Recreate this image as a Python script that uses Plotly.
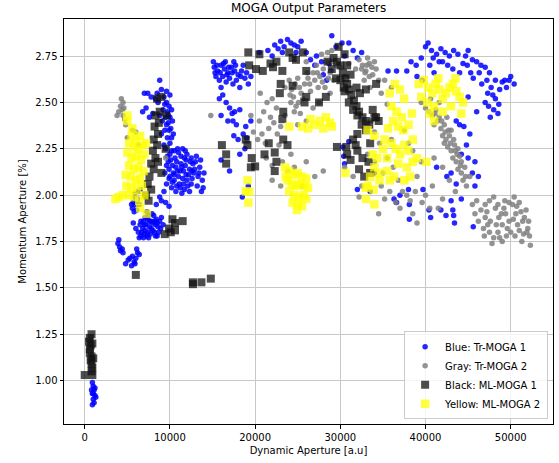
import plotly.graph_objects as go

# ---- Blue: Tr-MOGA 1 (x = dynamic aperture, y = momentum aperture) ----
blue_pts = [
    # bottom-left
    (900,0.99),(1000,0.97),(1100,0.95),(900,0.93),(1200,0.92),(1000,0.90),(1100,0.88),(800,0.95),(1300,0.91),(900,0.87),(1200,0.96),(1000,0.93),
    # low strand
    (3900,1.74),(4100,1.72),(4200,1.70),(4400,1.71),(4000,1.76),(4500,1.69),(5300,1.66),(5600,1.67),(5800,1.64),(6000,1.66),(6200,1.69),(6400,1.68),
    (5500,1.62),(5900,1.63),(4800,1.63),(5100,1.65),(6100,1.71),
    # blob ~1.8
    (6300,1.80),(6600,1.78),(6800,1.82),(7000,1.79),(7200,1.84),(7400,1.80),(7600,1.86),(7800,1.82),(8000,1.85),(8200,1.80),(8400,1.87),(8600,1.83),
    (8800,1.86),(9000,1.88),(7100,1.88),(7500,1.77),(6900,1.86),(8100,1.89),(7300,1.91),(6500,1.84),(7700,1.79),(8500,1.78),(6000,1.82),(5700,1.85),
    (7900,1.90),(8300,1.84),(9200,1.84),(6700,1.80),(7000,1.84),(7600,1.83),(8200,1.86),(8700,1.80),(6400,1.77),(7300,1.78),
    (6600,1.86),(7100,1.81),(7400,1.87),(7800,1.86),(8000,1.81),(8500,1.85),(8900,1.82),(6900,1.77),(7500,1.89),(8300,1.78),
    # strand ~1.95
    (5600,1.93),(5700,1.96),(5800,1.99),(5900,2.01),(6000,1.95),(6200,1.98),(6300,2.02),(5800,1.91),(6100,1.92),(6400,1.95),(6500,2.03),(5500,1.95),
    (8400,1.95),(9000,1.97),(9500,1.96),(8800,1.99),(9300,2.02),(9900,1.94),
    # big blob 2.0-2.25
    (9500,2.25),(10000,2.22),(10500,2.24),(11000,2.23),(11500,2.25),(12000,2.22),(12500,2.20),(13000,2.18),(13500,2.15),(14000,2.12),(13800,2.08),
    (9800,2.18),(10300,2.16),(10800,2.18),(11300,2.17),(11800,2.16),(12300,2.14),(12800,2.12),(10000,2.10),(10500,2.08),(11000,2.10),(11500,2.09),
    (12000,2.08),(12500,2.06),(10200,2.04),(10700,2.02),(11200,2.04),(11700,2.03),(9600,2.06),(10900,2.13),(11600,2.13),(12200,2.11),(9400,2.12),
    (10600,2.20),(13200,2.05),(13900,2.04),(11400,2.01),(12700,2.17),(9900,2.14),(10400,2.12),(11100,2.06),(11900,2.19),(12600,2.09),(13300,2.10),
    (10100,2.19),(11300,2.21),(12100,2.05),(13600,2.19),
    (9700,2.21),(10200,2.24),(10700,2.15),(11200,2.13),(11700,2.20),(12400,2.18),(12900,2.14),(10300,2.07),(10800,2.05),(11600,2.06),(12300,2.02),
    (9600,2.16),(10500,2.11),(11400,2.15),(11900,2.11),(12600,2.13),(13100,2.21),(13400,2.12),(11800,2.24),(10900,2.25),(9900,2.09),(13700,2.02),
    # left vertical strand
    (8800,2.62),(9000,2.57),(9300,2.53),(9600,2.50),(9900,2.48),(10200,2.46),(9200,2.46),(9500,2.42),(9800,2.39),(10100,2.36),(10400,2.33),
    (9400,2.35),(9700,2.31),(10000,2.28),(9100,2.40),(8600,2.50),(8300,2.52),(7800,2.53),(7400,2.55),(7000,2.55),(6800,2.45),(7200,2.47),
    (8000,2.44),(7600,2.42),(8500,2.55),(9000,2.33),(9300,2.27),(8800,2.43),(9600,2.56),(10000,2.54),(10300,2.40),(9700,2.45),(9900,2.35),
    (9400,2.49),(9800,2.43),(10200,2.31),(9600,2.38),(10000,2.42),
    # top-left of middle
    (15200,2.69),(15600,2.67),(16000,2.70),(16400,2.68),(16800,2.66),(17200,2.69),(17600,2.67),(18000,2.65),(18400,2.67),(18800,2.63),(19200,2.60),
    (15400,2.64),(15800,2.62),(16200,2.64),(16600,2.61),(17000,2.63),(17400,2.60),(17800,2.62),(18200,2.58),(15100,2.72),(16500,2.72),(17500,2.72),
    (19500,2.64),(18600,2.70),(16000,2.58),(16200,2.54),(16600,2.50),(17000,2.47),(17300,2.44),(17600,2.45),(18200,2.46),(16800,2.40),(17800,2.38),
    (17500,2.32),(18000,2.30),(18600,2.33),(15800,2.52),(16000,2.43),(17400,2.40),(18900,2.37),
    (15500,2.70),(16300,2.71),(16900,2.69),(17700,2.70),(18300,2.64),(15900,2.66),(16700,2.65),(17300,2.66),(15300,2.66),(19000,2.66),
    # top arc
    (22300,2.81),(22700,2.79),(23000,2.83),(23400,2.80),(23800,2.84),(24200,2.82),(24600,2.81),(25000,2.80),(25400,2.83),(23200,2.77),(24800,2.77),
    (26000,2.77),(26500,2.73),(27000,2.70),(27200,2.75),(28000,2.65),(28400,2.62),(28900,2.67),(29000,2.86),(29500,2.80),(30200,2.82),(31000,2.82),
    (31500,2.78),(32000,2.74),(32500,2.77),(27800,2.72),(22000,2.75),(21500,2.78),(20500,2.77),(28700,2.71),(30500,2.75),
    # scattered middle
    (16000,2.19),(18800,2.25),(19000,2.31),(19500,2.40),(17000,2.13),(18500,1.99),(19200,2.05),(18200,2.22),(30300,2.26),(30400,2.21),
    (30500,2.17),(32000,2.03),(33500,2.02),(34000,2.12),(36300,1.98),(36600,1.96),(38000,2.03),(39700,2.03),(38100,1.95),(38100,1.87),
    (37000,2.00),(31000,2.29),
    # right top
    (35600,2.67),(36600,2.67),(37800,2.67),(38300,2.72),(38900,2.70),(39500,2.74),(40000,2.80),(40300,2.82),(40700,2.78),(41300,2.76),(41800,2.79),
    (42300,2.77),(42800,2.75),(43300,2.78),(43800,2.76),(44400,2.71),(45000,2.78),(45500,2.73),(46000,2.72),(46500,2.70),(47000,2.69),(47500,2.66),
    (48200,2.62),(49000,2.61),(49500,2.58),(50000,2.64),(50400,2.60),(39000,2.64),(39600,2.62),(40500,2.70),(41000,2.66),(43200,2.68),(44000,2.66),
    (45600,2.63),(46600,2.60),(47300,2.55),(48200,2.52),(47400,2.48),(48000,2.46),(47600,2.42),(48500,2.44),(47000,2.50),(45000,2.53),(46000,2.45),
    (44000,2.38),(43600,2.40),(44500,2.37),(45200,2.33),(44200,2.22),(45000,2.20),(45800,2.18),(46200,2.10),(45800,2.05),(44800,2.27),
    (41300,2.15),(43000,2.12),(43600,2.06),(45500,2.12),(42500,2.10),
    (40400,1.92),(41800,1.92),(43000,1.97),(43200,1.92),(42400,1.89),(43300,1.89),(40600,1.88),(43400,1.85),(45600,1.83),(44200,1.98),
    (49800,2.62),(48700,2.57),(47700,2.58),(44700,2.75),(42000,2.72),
    (44900,2.70),(45300,2.66),(46300,2.66),(47200,2.62),(48600,2.49),(47900,2.54),(41600,2.72),(42600,2.70),(40900,2.74),(49300,2.62),
]

# ---- Gray: Tr-MOGA 2 ----
gray_pts = [
    (4300,2.52),(4500,2.50),(4200,2.48),(4400,2.46),(4600,2.47),(4000,2.45),(4500,2.43),(4700,2.41),(4800,2.38),(5600,2.35),(6000,2.34),(6300,2.27),
    (3800,2.43),(5000,2.31),(14800,2.43),(9500,2.20),
    (19800,2.34),(20300,2.30),(20800,2.33),(21200,2.28),(21600,2.36),(20500,2.40),(21000,2.45),(21400,2.50),(20600,2.55),(21800,2.42),(22200,2.39),
    (22600,2.33),(23000,2.37),(22000,2.52),(22500,2.47),(21300,2.20),(22000,2.16),(23200,2.18),(23800,2.13),(24200,2.22),(24600,2.15),(19500,2.43),
    (23500,2.58),(24000,2.62),(24500,2.53),(24800,2.48),(25200,2.58),(25600,2.52),(25000,2.63),(24300,2.57),(25800,2.60),(26200,2.63),(26500,2.56),
    (26800,2.66),(27200,2.70),(27600,2.64),(28000,2.68),(28400,2.72),(28800,2.66),(29200,2.62),(29600,2.70),(27400,2.58),(28200,2.58),(28800,2.55),
    (27800,2.76),(28500,2.77),(29000,2.78),(26000,2.72),(25300,2.44),(26000,2.40),(26800,2.47),(27500,2.50),(23000,2.05),(22000,2.08),(25500,2.05),
    (27000,2.10),(28000,2.13),(26000,2.18),(23500,2.43),(22800,2.27),(24600,2.45),(25000,2.38),(24200,2.50),(27000,2.62),
    (24700,2.60),(25400,2.55),(26400,2.60),(27300,2.66),(27900,2.61),(28600,2.63),(29100,2.72),(24100,2.54),(25100,2.50),(26100,2.66),
    (30000,2.69),(30500,2.64),(31000,2.71),(31800,2.68),(32200,2.73),(32600,2.70),(33000,2.67),(33400,2.71),(33800,2.65),(34200,2.68),(34500,2.62),
    (32800,2.62),(33500,2.58),(34800,2.55),(35200,2.62),(36000,2.58),(35500,2.49),(33600,2.40),(34000,2.34),(34600,2.28),(33200,2.22),(34000,2.18),
    (35000,2.12),(35500,2.20),(36200,2.15),(36800,2.08),(37300,2.02),(37800,2.00),(36500,1.96),(37000,1.93),(38200,1.97),(38800,2.02),(35800,2.02),
    (34500,1.90),(39000,2.10),(39500,2.18),(38500,2.24),(35200,1.98),(32200,1.99),(34800,2.05),(30500,2.15),(31500,2.10),(32500,2.05),(36000,2.30),
    (37500,2.35),(38000,2.28),(33200,2.74),(33700,2.69),(32900,2.66),(33400,2.64),(34000,2.72),(32500,2.68),(33100,2.70),
    (39500,2.50),(40000,2.47),(40400,2.45),(40800,2.43),(41200,2.46),(41000,2.38),(41400,2.40),(41800,2.36),(42200,2.38),(42000,2.32),(42400,2.30),
    (42800,2.32),(42600,2.26),(43000,2.24),(43400,2.27),(43200,2.20),(43600,2.18),(44000,2.21),(43800,2.14),(44200,2.12),(44600,2.15),(44400,2.08),
    (44800,2.05),(42500,2.42),(41600,2.50),(40600,2.52),(43000,2.35),(45200,2.10),(43500,2.02),(42800,2.08),(42000,2.15),(41000,2.20),(40000,2.00),
    (39600,1.96),(41500,1.93),(42000,1.98),(40800,2.05),(38500,1.90),(39000,1.85),(40500,1.93),(41600,2.42),(42200,2.28),(43800,2.25),(44200,2.18),
    (41100,2.44),(41900,2.40),(42700,2.35),(43300,2.30),(43700,2.22),(44100,2.16),(44700,2.10),(42300,2.34),(42900,2.28),(43500,2.24),
    (46000,1.97),(46500,1.92),(47000,1.95),(47500,1.97),(48000,1.99),(48200,1.93),(47000,1.88),(47600,1.86),(48600,1.88),(49000,1.84),(49400,1.90),
    (49800,1.86),(50200,1.95),(50600,1.90),(51000,1.96),(51400,1.86),(51800,1.92),(52000,1.82),(52200,1.78),(51500,1.79),(51000,1.81),(50500,1.78),
    (50000,1.80),(49500,1.78),(48500,1.80),(48000,1.77),(47500,1.80),(46800,1.82),(46200,1.86),(45800,1.90),(49200,1.93),(50800,1.84),(51300,1.75),
    (52300,1.73),(49800,1.96),(46900,1.78),(47800,1.74),(49000,1.75),(50400,1.99),(48500,1.95),(45500,1.95),(47200,1.91),(51600,1.88),(52100,1.86),
    (48300,1.84),(48900,1.90),(49600,1.82),(50300,1.87),(51200,1.91),(47300,1.84),(49300,1.97),(50700,1.94),(51900,1.80),(48700,1.77),
]

# ---- Black: ML-MOGA 1 ----
black_pts = [
    (800,1.25),(600,1.23),(500,1.21),(700,1.19),(600,1.17),(600,1.15),(800,1.13),(700,1.11),(800,1.09),(900,1.07),(800,1.05),(0,1.03),(900,1.03),
    (1000,1.12),(900,1.20),
    (6000,1.57),(12700,1.53),(12700,1.52),(13700,1.53),(14800,1.55),
    (9400,1.79),(10100,1.80),(10600,1.85),(11500,1.86),(10600,1.81),(9900,1.82),(10300,1.87),
    (8500,2.52),(8800,2.45),(8300,2.43),(8700,2.39),(8200,2.37),(8600,2.33),(8100,2.30),(8500,2.27),(8000,2.24),(8300,2.20),(7800,2.17),(8100,2.14),
    (9000,2.12),(8600,2.18),(7600,2.10),(7400,2.06),(7800,2.03),(7200,2.00),(7500,1.97),(9500,2.25),(9600,2.43),(9000,2.53),
    (16100,2.27),(16600,2.22),(16600,2.17),(18900,2.30),(19100,2.27),(19600,2.20),(19500,2.15),(20000,2.155),
    (21600,2.28),(21100,2.22),(22300,2.23),(22500,2.18),(22300,2.13),(23300,2.30),(23800,2.27),
    (19200,2.77),(20500,2.76),(19300,2.70),(20100,2.68),(20900,2.67),(21800,2.71),(22100,2.69),(22500,2.72),(23200,2.67),(23000,2.60),(22900,2.55),
    (24400,2.59),(26000,2.53),(25800,2.50),(24000,2.77),(24800,2.73),(25600,2.77),(26000,2.67),(24400,2.74),(23300,2.45),(23200,2.41),(28300,2.53),
    (27500,2.50),
    (29200,2.74),(29600,2.72),(30000,2.70),(30300,2.66),(30600,2.63),(30800,2.60),(31000,2.57),(31300,2.54),(31600,2.51),(31900,2.48),(32200,2.45),
    (32600,2.42),(33000,2.40),(33400,2.38),(30000,2.62),(30500,2.56),(31000,2.50),(31500,2.46),(32000,2.43),(32500,2.38),(33000,2.35),(31500,2.30),
    (31800,2.27),(32000,2.24),(32600,2.20),(32200,2.14),(31200,2.19),(30800,2.22),(33300,2.18),(33500,2.12),(34000,2.42),(34500,2.40),(33000,2.57),
    (34200,2.60),(29000,2.68),(30800,2.70),(31200,2.65),(31900,2.58),(32300,2.55),(30400,2.58),(32000,2.33),(33500,2.28),(29500,2.63),(28500,2.72),
    (32800,2.10),(29800,2.80),(30500,2.76),(29600,2.26),(30700,2.26),(33800,2.46),(34200,2.42),
]

# ---- Yellow: ML-MOGA 2 ----
yellow_pts = [
    (5000,2.43),(5500,2.32),(6000,2.30),(6500,2.32),(5200,2.28),(5800,2.26),(6300,2.25),(6800,2.27),(5000,2.23),(5500,2.20),(6000,2.21),(6600,2.19),
    (7000,2.22),(5200,2.16),(5800,2.14),(6300,2.15),(6900,2.13),(4800,2.11),(5400,2.10),(6000,2.08),(6500,2.09),(4900,2.05),(5500,2.04),(6100,2.03),
    (6700,2.05),(5200,2.00),(5800,1.99),(4500,2.00),(4000,1.99),(3600,1.98),(6400,1.97),(7000,2.00),(6500,1.93),(7300,1.90),(5000,2.40),(5600,2.36),
    (7200,2.28),
    (19100,2.08),(19300,2.02),(18900,2.02),(19200,1.96),
    (23500,2.15),(24000,2.13),(24500,2.11),(25000,2.12),(25500,2.10),(26000,2.09),(23800,2.08),(24300,2.06),(24800,2.05),(25300,2.06),(25800,2.05),
    (26200,2.04),(24000,2.02),(24600,2.00),(25200,1.99),(25700,2.00),(24400,1.96),(25000,1.95),(25500,1.94),(26000,1.98),(24900,1.92),(23600,2.10),
    (24000,2.37),(25500,2.37),(26200,2.36),(27000,2.38),(27600,2.40),(28300,2.42),(29000,2.37),(28800,2.39),(26500,2.41),(28000,2.36),
    (35800,2.55),(36400,2.60),(37000,2.57),(37500,2.52),(36000,2.48),(36600,2.45),(37200,2.42),(36200,2.40),(36800,2.37),(37400,2.35),(38000,2.38),
    (38400,2.44),(35600,2.36),(39200,2.60),(39800,2.62),(40300,2.58),(40800,2.55),(41200,2.60),(41600,2.57),(42000,2.52),(42400,2.55),(42800,2.58),
    (43200,2.60),(43600,2.56),(44000,2.53),(44400,2.50),(43000,2.48),(42000,2.45),(41000,2.48),(40200,2.50),(40500,2.44),(39500,2.53),(41500,2.63),
    (43500,2.63),(44200,2.44),(41000,2.40),
    (33800,2.22),(34300,2.20),(34000,2.15),(33500,2.10),(34500,2.12),(33200,2.05),(33900,2.03),(34600,2.08),(33000,1.98),(34000,1.95),(35000,2.25),
    (35500,2.20),(36000,2.28),(36500,2.25),(37000,2.22),(37500,2.27),(38000,2.24),(38500,2.18),(37800,2.15),(36800,2.17),(39000,2.20),(38500,2.30),
    (35500,2.13),(35800,2.08),(36300,2.10),(37500,2.08),(30600,2.12),(35200,2.30),(40100,2.18),(38200,2.10),(34000,2.32),(33200,2.35),(33000,2.04),
]

series = [
    ("Blue: Tr-MOGA 1", blue_pts, "circle", 5.5, "#0000ff", 0.85),
    ("Gray: Tr-MOGA 2", gray_pts, "circle", 5.5, "#808080", 0.85),
    ("Black: ML-MOGA 1", black_pts, "square", 8, "#111111", 0.75),
    ("Yellow: ML-MOGA 2", yellow_pts, "square", 8.5, "#ffff00", 0.75),
]

fig = go.Figure()
for name, pts, sym, size, color, op in series:
    fig.add_trace(go.Scatter(
        x=[p[0] for p in pts], y=[p[1] for p in pts], mode="markers", name=name,
        marker=dict(symbol=sym, size=size, color=color, opacity=op, line=dict(width=0)),
    ))

axis_common = dict(
    showline=True, linecolor="black", linewidth=1, mirror=True,
    ticks="outside", ticklen=3.5, tickcolor="black", tickwidth=1,
    showgrid=True, gridcolor="#c8c8c8", gridwidth=1, zeroline=False,
    tickfont=dict(family="DejaVu Sans", size=10, color="black"),
)

fig.update_layout(
    width=559, height=463,
    margin=dict(l=64, r=6, t=19, b=39),
    paper_bgcolor="white", plot_bgcolor="white",
    font=dict(family="DejaVu Sans", size=10, color="black"),
    title=dict(text="MOGA Output Parameters", x=0.552, xanchor="center", y=0.983, yanchor="middle",
               yref="container", font=dict(size=12, color="black")),
    xaxis=dict(range=[-2430, 54960], tickvals=[0, 10000, 20000, 30000, 40000, 50000], tickformat="d",
               title=dict(text="Dynamic Aperture [a.u]", standoff=5, font=dict(size=10)), **axis_common),
    yaxis=dict(range=[0.766, 2.950], tickvals=[1.0, 1.25, 1.5, 1.75, 2.0, 2.25, 2.5, 2.75], tickformat=".2f",
               title=dict(text="Momentum Aperture [%]", standoff=6, font=dict(size=10)), **axis_common),
    legend=dict(x=0.99, y=0.012, xanchor="right", yanchor="bottom", bgcolor="rgba(255,255,255,0.8)",
                bordercolor="#cccccc", borderwidth=1, font=dict(size=10), itemsizing="trace",
                tracegroupgap=0),
    showlegend=True,
)

fig.write_html("out.html", config={"displayModeBar": False},
               post_script="document.body.style.margin='0';")
